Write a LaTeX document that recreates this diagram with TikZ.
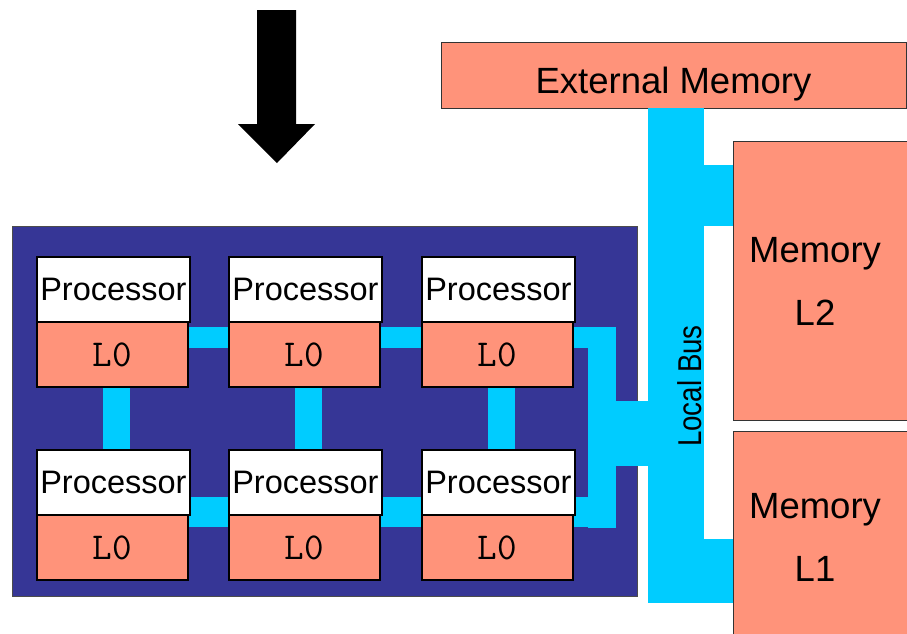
\documentclass[tikz,border=0pt]{standalone}
\usepackage{fontspec}
\usepackage{graphicx}
\setmainfont{Liberation Sans}
\usetikzlibrary{backgrounds}
\definecolor{panelblue}{HTML}{363696}
\definecolor{buscyan}{HTML}{00CCFF}
\definecolor{salmonfill}{HTML}{FF937A}
\begin{document}
\begin{tikzpicture}[x=1pt,y=-1pt,
  procbox/.style={draw=black, line width=1.8pt, fill=white, minimum width=153pt, minimum height=65pt,
    inner sep=0pt, anchor=north west, font=\fontsize{32.5}{36}\selectfont},
  lzerobox/.style={draw=black, line width=1.8pt, fill=salmonfill, minimum width=151pt, minimum height=65pt,
    inner sep=0pt, anchor=north west, font=\ttfamily\fontsize{38}{40}\selectfont},
  membox/.style={draw=black!80, line width=0.8pt, fill=salmonfill, inner sep=0pt},
  memtext/.style={align=center, font=\fontsize{36.5}{63}\selectfont, inner sep=0pt},
  link/.style={draw=buscyan, line cap=butt},
]
\useasboundingbox (0,0) rectangle (907,633);

% down arrow
\fill[black] (257,10) -- (296,10) -- (296,124) -- (315,124) -- (277,163) -- (238,124) -- (257,124) -- cycle;

% processors
\foreach \c/\x in {1/36,2/228,3/421}{
  \node[procbox] (p1\c) at (\x,256) {Processor};
  \node[lzerobox] (l1\c) at (\x,321) {\raisebox{-3pt}{L0}};
  \node[procbox] (p2\c) at (\x,449) {Processor};
  \node[lzerobox] (l2\c) at (\x,514) {\raisebox{-3pt}{L0}};
}

% memories and bus
\node[membox, minimum width=465pt, minimum height=66pt, text height=36pt, text depth=0pt,
      font=\fontsize{36.5}{40}\selectfont] (ext) at (673.5,75) {External Memory};
\node[membox, minimum width=185pt, minimum height=279pt] (mem2) at (825.5,280.5) {};
\node[memtext] (mem2t) at (815,281.5) {Memory\\L2};
\node[membox, minimum width=185pt, minimum height=212pt] (mem1) at (825.5,537) {};
\node[memtext] (mem1t) at (815,537) {Memory\\L1};
\node[fill=buscyan, minimum width=56pt, minimum height=495pt, inner sep=0pt] (bus) at (676,355.5) {};
\node[rotate=90, inner sep=0pt, font=\fontsize{33}{36}\selectfont] (busl) at (689.5,386) {\scalebox{0.84}[1]{Local Bus}};

\coordinate (r1) at (0,337.5);
\coordinate (r2) at (0,512);
\coordinate (colx) at (602,0);
\coordinate (tapr) at (616,0);

\begin{pgfonlayer}{background}
  \draw[draw=black!70, line width=0.8pt, fill=panelblue] (12,226) rectangle (637,596);
  % row links
  \draw[link, line width=21pt] (l11.center |- r1) -- (tapr |- r1);
  \draw[link, line width=30pt] (p21.center |- r2) -- (tapr |- r2);
  % column links
  \foreach \c in {1,2,3}{
    \coordinate (vx\c) at ([xshift=3.5pt]p1\c.center);
    \draw[link, line width=27pt] (vx\c |- l1\c.south) -- (vx\c |- p2\c.north);
  }
  % collector to bus
  \draw[link, line width=28pt] (colx |- 0,327) -- (colx |- 0,528);
  \draw[link, line width=65pt] (colx |- 0,433.5) -- (bus.center |- 0,433.5);
  % bus to memories
  \draw[link, line width=61pt] (bus.center |- 0,195.5) -- (mem2.west |- 0,195.5);
  \draw[link, line width=64pt] (bus.center |- 0,571) -- (mem1.west |- 0,571);
\end{pgfonlayer}
\end{tikzpicture}
\end{document}
